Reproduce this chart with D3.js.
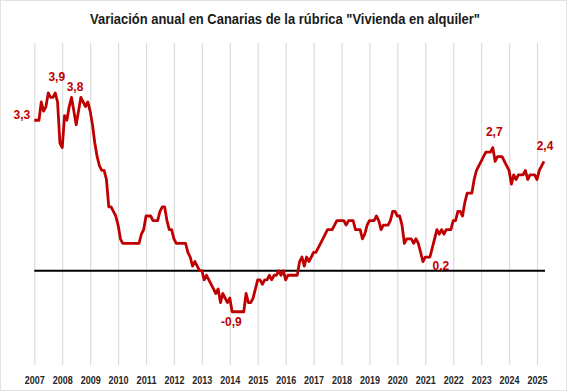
<!DOCTYPE html>
<html><head><meta charset="utf-8">
<script src="https://cdn.jsdelivr.net/npm/d3@7"></script>
<style>
html,body{margin:0;padding:0;background:#fff;}
svg{display:block;}
</style></head><body>
<svg id="chart" width="567" height="391"></svg>
<script>
// ---- DATA ----
const title = 'Variación anual en Canarias de la rúbrica "Vivienda en alquiler"';
const yearLabels = ["2007","2008","2009","2010","2011","2012","2013","2014","2015","2016","2017","2018","2019","2020","2021","2022","2023","2024","2025"];
const v2007 = [3.3,3.3,3.3,3.7,3.5,3.6,3.9,3.8,3.8,3.9,3.7,2.8];
const v2008 = [2.7,3.4,3.3,3.6,3.8,3.5,3.2,3.5,3.8,3.7,3.6,3.7];
const v2009 = [3.5,3.2,2.8,2.5,2.3,2.2,2.2,2.0,1.4,1.4,1.3,1.2];
const v2010 = [1.0,0.7,0.6,0.6,0.6,0.6,0.6,0.6,0.6,0.6,0.8,0.9];
const v2011 = [1.2,1.2,1.2,1.1,1.1,1.1,1.3,1.4,1.4,1.1,0.9,0.9];
const v2012 = [0.7,0.6,0.6,0.6,0.6,0.6,0.4,0.3,0.1,0.2,0.1,0.0];
const v2013 = [0.0,-0.2,-0.1,-0.2,-0.3,-0.4,-0.5,-0.4,-0.7,-0.5,-0.6,-0.7];
const v2014 = [-0.6,-0.9,-0.9,-0.9,-0.9,-0.9,-0.9,-0.5,-0.7,-0.7,-0.6,-0.4];
const v2015 = [-0.2,-0.2,-0.3,-0.2,-0.2,-0.1,-0.2,-0.1,-0.1,0.0,-0.1,0.0];
const v2016 = [-0.2,-0.1,-0.1,-0.1,-0.1,-0.1,0.2,0.3,0.1,0.3,0.2,0.3];
const v2017 = [0.4,0.4,0.5,0.6,0.7,0.8,0.9,0.9,0.9,1.0,1.1,1.1];
const v2018 = [1.1,1.1,1.0,1.1,1.1,1.1,0.9,0.9,0.9,0.7,0.8,1.0];
const v2019 = [1.1,1.1,1.1,1.2,1.1,0.9,1.0,1.0,1.0,1.1,1.3,1.3];
const v2020 = [1.2,1.2,1.0,0.6,0.7,0.7,0.7,0.6,0.7,0.6,0.4,0.2];
const v2021 = [0.3,0.3,0.3,0.5,0.7,0.9,0.8,0.9,0.8,0.9,0.9,0.9];
const v2022 = [1.1,1.1,1.3,1.3,1.2,1.5,1.7,1.7,1.7,2.0,2.2,2.3];
const v2023 = [2.4,2.5,2.6,2.6,2.6,2.7,2.4,2.5,2.5,2.5,2.4,2.3];
const v2024 = [2.2,1.9,2.1,2.0,2.1,2.1,2.1,2.2,2.0,2.1,2.1,2.1];
const v2025 = [2.0,2.2,2.3,2.4];
// annotated points: month index (0 = Jan 2007) and label
const annIndex = [0, 9, 16, 86, 167, 197, 219];
const annText  = ["3,3","3,9","3,8","-0,9","0,2","2,7","2,4"];

// ---- BUILD ----
const values = [].concat(v2007,v2008,v2009,v2010,v2011,v2012,v2013,v2014,v2015,v2016,v2017,v2018,v2019,v2020,v2021,v2022,v2023,v2024,v2025);
const data = values.map((v,i)=>({i, v}));

const svg = d3.select("#chart");
const W = 567, H = 391;
const red = "#c00000";

svg.append("rect").attr("x",0.5).attr("y",0.5).attr("width",W-1).attr("height",H-1)
  .attr("fill","#fff").attr("stroke","#e3e3e3");

const x = d3.scaleLinear().domain([0, 216]).range([34.3, 537]);
const y = d3.scaleLinear().domain([-2, 4.7]).range([361.9, 56.4]);

const gridTop = 43, gridBottom = 365;
const tickVals = yearLabels.map((d,k)=>k*12);

// gridlines + year labels through a D3 axis
const ax = svg.append("g").attr("transform",`translate(0,${gridBottom})`)
  .call(d3.axisBottom(x).tickValues(tickVals)
      .tickFormat((d,k)=>yearLabels[k])
      .tickSize(-(gridBottom-gridTop)).tickPadding(11.5));
ax.select(".domain").remove();
ax.selectAll(".tick line").attr("stroke","#dcdcdc").attr("stroke-width",1.2);
ax.selectAll(".tick text")
  .attr("fill","#262626")
  .style("font-family","'Liberation Sans', Arial, sans-serif")
  .style("font-weight","bold").style("font-size","10px")
  .attr("textLength",20).attr("lengthAdjust","spacingAndGlyphs");

// zero line
svg.append("line")
  .attr("x1", x(0)).attr("x2", x(values.length-1)+1)
  .attr("y1", y(0)).attr("y2", y(0))
  .attr("stroke","#000").attr("stroke-width",2);

// series line
svg.append("path").datum(data)
  .attr("fill","none").attr("stroke",red).attr("stroke-width",2.8)
  .attr("stroke-linejoin","round").attr("stroke-linecap","butt")
  .attr("d", d3.line().x(d=>x(d.i)).y(d=>y(d.v)));

// annotations
const annOffsets = [[-4,-1,"end"],[1.5,-11.5,"middle"],[3.5,-6,"middle"],[-3,14.5,"middle"],[9.5,8.5,"start"],[1.5,-11.5,"middle"],[1,-11,"middle"]];
annIndex.forEach((idx,k)=>{
  const o = annOffsets[k];
  svg.append("text")
    .attr("x", x(idx)+o[0]).attr("y", y(values[idx])+o[1])
    .attr("text-anchor", o[2])
    .attr("fill", red)
    .style("font-family","'Liberation Sans', Arial, sans-serif")
    .style("font-weight","bold").style("font-size","12px")
    .text(annText[k]);
});

// title
svg.append("text")
  .attr("x", 285).attr("y", 23.5).attr("text-anchor","middle")
  .attr("fill","#1a1a1a")
  .style("font-family","'Liberation Sans', Arial, sans-serif")
  .style("font-weight","bold").style("font-size","14px")
  .attr("textLength",390).attr("lengthAdjust","spacingAndGlyphs")
  .text(title);
</script>
</body></html>
